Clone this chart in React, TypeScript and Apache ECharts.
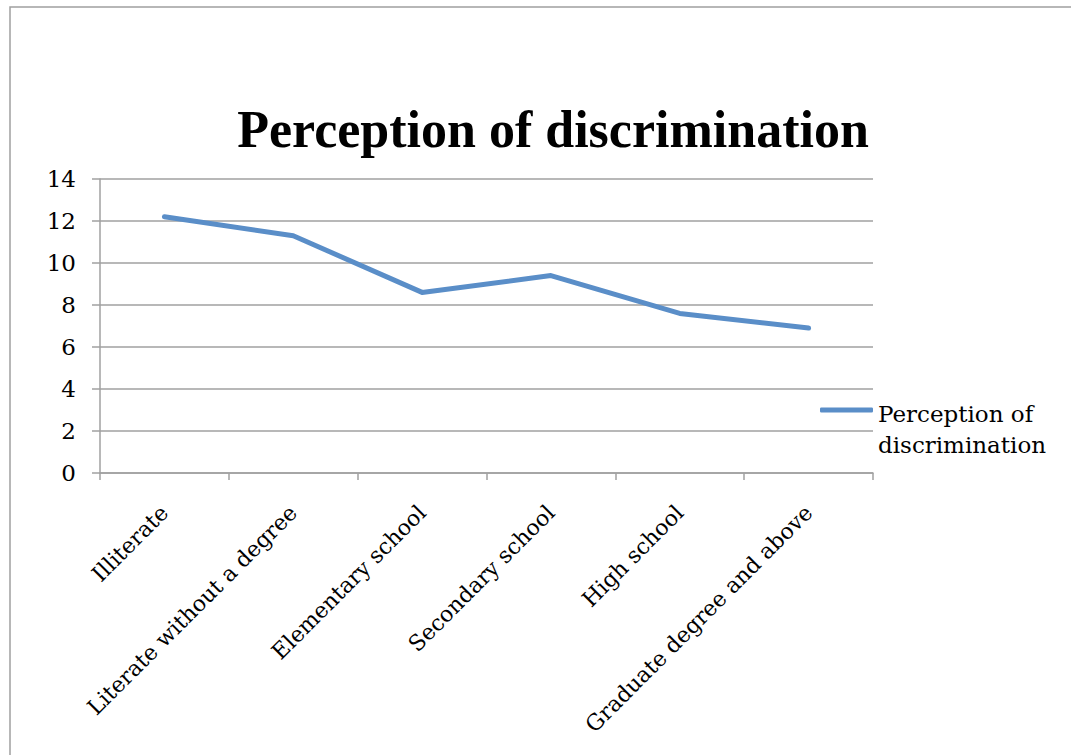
import React, { useEffect, useRef } from "react";
import * as echarts from "echarts";

const categories = [
  "Illiterate",
  "Literate without a degree",
  "Elementary school",
  "Secondary school",
  "High school",
  "Graduate degree and above",
];
const seriesName = "Perception of discrimination";
const values = [12.2, 11.3, 8.6, 9.4, 7.6, 6.9];
const titleText = "Perception of discrimination";

export default function App() {
  const ref = useRef<HTMLDivElement>(null);
  useEffect(() => {
    document.body.style.margin = "0";
    const chart = echarts.init(ref.current!, null, { renderer: "svg" });
    const axisGray = "#a0a0a0";
    chart.setOption({
      animation: false,
      backgroundColor: "#ffffff",
      title: {
        text: titleText,
        left: 548,
        textAlign: "center",
        top: 98,
        textStyle: {
          fontFamily: "Liberation Serif",
          fontWeight: "bold",
          fontSize: 52,
          color: "#000",
        },
      },
      graphic: [
        {
          type: "rect",
          shape: { x: 10, y: 7, width: 1200, height: 900 },
          style: { fill: "none", stroke: "#a0a0a0", lineWidth: 1.5 },
          silent: true,
        },
      ],
      legend: {
        left: 820,
        top: 374,
        padding: 0,
        orient: "vertical",
        icon: "roundRect",
        itemWidth: 53,
        itemHeight: 5,
        data: [{ name: seriesName }],
        formatter: () => "{e| }\n{a|Perception of}\n{a|discrimination}",
        textStyle: {
          fontFamily: "DejaVu Serif",
          fontSize: 23,
          color: "#000",
          rich: {
            e: { fontSize: 10, lineHeight: 39, fontFamily: "DejaVu Serif" },
            a: { fontSize: 23, lineHeight: 31, fontFamily: "DejaVu Serif", color: "#000" },
          },
        },
      },
      grid: { left: 100, right: 198, top: 179, bottom: 282, containLabel: false },
      xAxis: {
        type: "category",
        data: categories,
        boundaryGap: true,
        axisLine: { show: true, lineStyle: { color: axisGray, width: 1.5 } },
        axisTick: { show: true, length: 7, alignWithLabel: false, lineStyle: { color: axisGray, width: 1.5 } },
        axisLabel: {
          rotate: 45,
          interval: 0,
          margin: 36,
          fontFamily: "DejaVu Serif",
          fontSize: 22,
          color: "#000",
        },
        splitLine: { show: false },
      },
      yAxis: {
        type: "value",
        min: 0,
        max: 14,
        interval: 2,
        axisLine: { show: true, lineStyle: { color: axisGray, width: 1.5 } },
        axisTick: { show: true, length: 8, lineStyle: { color: axisGray, width: 1.5 } },
        axisLabel: {
          margin: 24,
          fontFamily: "DejaVu Serif",
          fontSize: 23,
          color: "#000",
        },
        splitLine: { show: true, lineStyle: { color: axisGray, width: 1.5 } },
      },
      series: [
        {
          name: seriesName,
          type: "line",
          data: values,
          showSymbol: false,
          symbol: "none",
          lineStyle: { color: "#5a8ec8", width: 5, cap: "round", join: "round" },
          itemStyle: { color: "#5a8ec8" },
        },
      ],
    });
    return () => chart.dispose();
  }, []);
  return <div ref={ref} style={{ width: 1071, height: 755 }} />;
}
